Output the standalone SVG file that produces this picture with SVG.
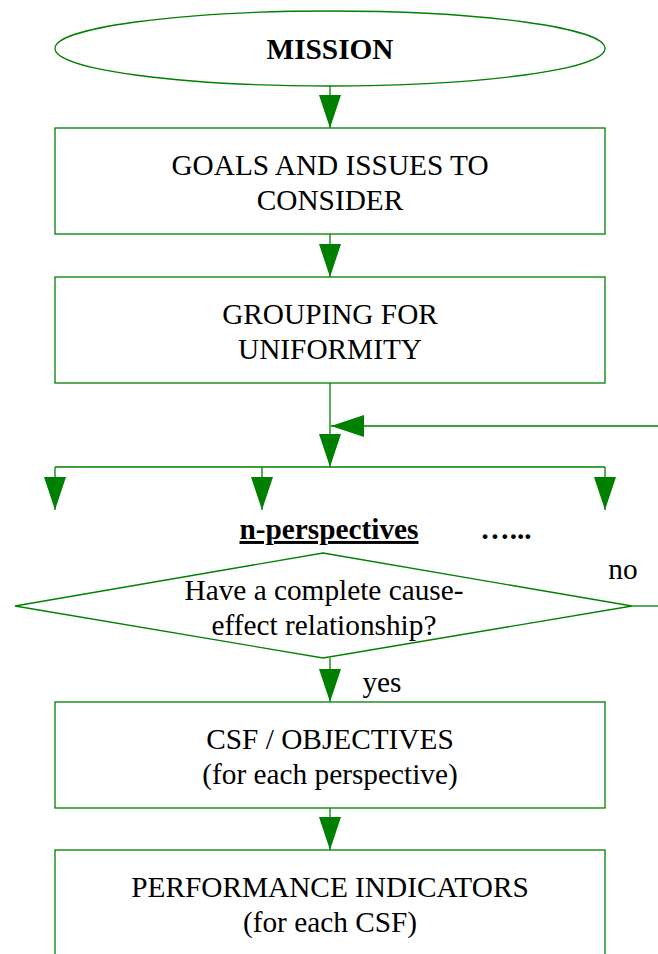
<svg xmlns="http://www.w3.org/2000/svg" width="658" height="954" viewBox="0 0 658 954">
  <style>
    .shape { fill: #ffffff; stroke: #008000; stroke-width: 1.3; }
    .wire { fill: none; stroke: #008000; stroke-width: 1.3; }
    .arrow { marker-end: url(#head); }
    text { font-size: 29.3px; fill: #000000; text-anchor: middle; }
    .bold { font-weight: bold; }
  </style>
  <defs>
    <marker id="head" viewBox="0 0 33 22" refX="33" refY="11" markerWidth="33" markerHeight="22" markerUnits="userSpaceOnUse" orient="auto">
      <path d="M0,0 L33,11 L0,22 z" fill="#008000"/>
    </marker>
  </defs>

  <!-- flow lines and arrowheads -->
  <g id="connectors">
    <path class="wire arrow" d="M330,86 V128"/>
    <path class="wire arrow" d="M330,234 V277"/>
    <path class="wire arrow" d="M330,383 V467"/>
    <path class="wire arrow" d="M658,426 H331"/>
    <path class="wire" d="M55,467 H605"/>
    <path class="wire arrow" d="M55,467 V510"/>
    <path class="wire arrow" d="M262,467 V510"/>
    <path class="wire arrow" d="M605,467 V510"/>
    <path class="wire" d="M632,606 H658"/>
    <path class="wire arrow" d="M330,658 V702"/>
    <path class="wire arrow" d="M330,808 V850"/>
  </g>

  <g font-family="Liberation Serif, Tinos, Times New Roman, DejaVu Serif, serif">
    <g id="mission">
      <ellipse class="shape" cx="330" cy="48.5" rx="275" ry="37.5"/>
      <text class="bold" x="330" y="59">MISSION</text>
    </g>

    <g id="goals">
      <rect class="shape" x="55" y="128" width="550" height="106"/>
      <text x="330" y="175">GOALS AND ISSUES TO</text>
      <text x="330" y="210">CONSIDER</text>
    </g>

    <g id="grouping">
      <rect class="shape" x="55" y="277" width="550" height="106"/>
      <text x="330" y="324">GROUPING FOR</text>
      <text x="330" y="359"> UNIFORMITY</text>
    </g>

    <g id="perspectives">
      <text class="bold" x="329" y="539" text-decoration="underline">n-perspectives</text>
      <text class="bold" x="506" y="539">…...</text>
    </g>

    <g id="decision">
      <polygon class="shape" points="323,553 632,606 323,658 15,606"/>
      <text x="324" y="600">Have a complete cause-</text>
      <text x="324" y="635">effect relationship?</text>
    </g>

    <g id="branch-labels">
      <text x="623" y="579">no</text>
      <text x="382" y="692">yes</text>
    </g>

    <g id="csf">
      <rect class="shape" x="55" y="702" width="550" height="106"/>
      <text x="330" y="749">CSF / OBJECTIVES</text>
      <text x="330" y="784">(for each perspective)</text>
    </g>

    <g id="indicators">
      <rect class="shape" x="55" y="850" width="550" height="120"/>
      <text x="330" y="897">PERFORMANCE INDICATORS</text>
      <text x="330" y="932">(for each CSF)</text>
    </g>
  </g>
</svg>
